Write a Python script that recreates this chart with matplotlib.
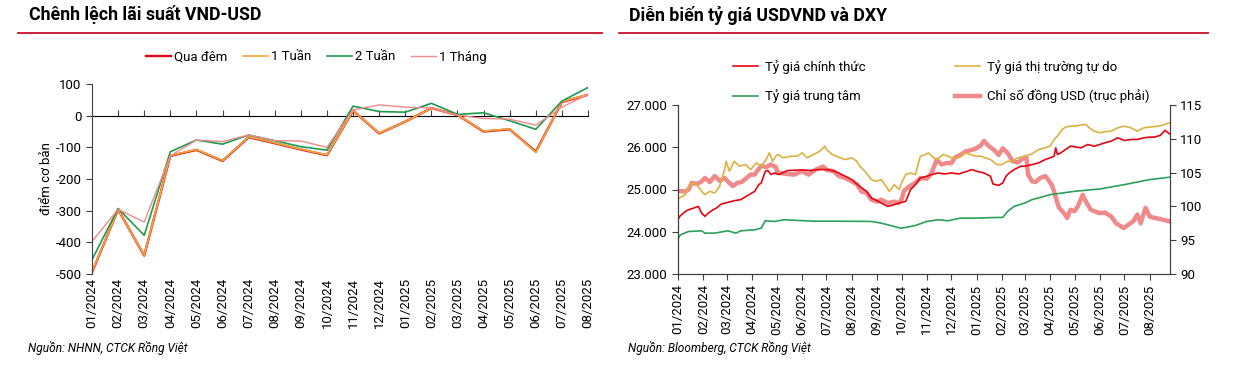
import matplotlib
matplotlib.use('Agg')
import matplotlib.pyplot as plt
import matplotlib.dates as mdates
from matplotlib.lines import Line2D
from matplotlib.ticker import FuncFormatter
import pandas as pd

plt.rcParams['font.family'] = ['Roboto', 'DejaVu Sans']
plt.rcParams['axes.unicode_minus'] = False

# ---- số liệu: chênh lệch lãi suất (điểm cơ bản)
months = ['01/2024', '02/2024', '03/2024', '04/2024', '05/2024', '06/2024', '07/2024',
          '08/2024', '09/2024', '10/2024', '11/2024', '12/2024', '01/2025', '02/2025',
          '03/2025', '04/2025', '05/2025', '06/2025', '07/2025', '08/2025']
qua_dem = [-495, -296, -442, -127, -108, -143, -68, -87, -107, -125, 16, -56, -19, 24, 2, -50, -43, -114, 43, 66]
tuan_1 = [-494, -296, -441, -126, -107, -142, -67, -86, -106, -124, 16, -55, -19, 24, 2, -49, -42, -116, 44, 67]
tuan_2 = [-455, -293, -378, -114, -77, -90, -61, -79, -98, -109, 30, 13, 11, 39, 4, 9, -16, -43, 46, 89]
thang_1 = [-397, -296, -336, -127, -77, -82, -61, -79, -80, -100, 18, 34, 27, 24, 2, -9, -11, -30, 27, 67]

# ---- số liệu: tỷ giá
red_dates = ['2024-01-01', '2024-01-03', '2024-01-10', '2024-01-14', '2024-01-26', '2024-01-30',
             '2024-02-03', '2024-02-07', '2024-02-13', '2024-02-17', '2024-02-23', '2024-03-02',
             '2024-03-10', '2024-03-18', '2024-03-30', '2024-04-04', '2024-04-09', '2024-04-12',
             '2024-04-17', '2024-04-20', '2024-04-24', '2024-04-28', '2024-05-04', '2024-05-14',
             '2024-06-01', '2024-06-11', '2024-06-21', '2024-07-01', '2024-07-08', '2024-07-16',
             '2024-07-24', '2024-08-01', '2024-08-09', '2024-08-19', '2024-08-25', '2024-09-01',
             '2024-09-06', '2024-09-14', '2024-09-22', '2024-09-28', '2024-10-06', '2024-10-12',
             '2024-10-18', '2024-10-24', '2024-11-01', '2024-11-07', '2024-11-15', '2024-11-23',
             '2024-12-01', '2024-12-10', '2024-12-18', '2024-12-26', '2025-01-01', '2025-01-10',
             '2025-01-18', '2025-01-21', '2025-01-28', '2025-02-02', '2025-02-06', '2025-02-10',
             '2025-02-16', '2025-02-24', '2025-03-01', '2025-03-10', '2025-03-18', '2025-03-26',
             '2025-04-01', '2025-04-06', '2025-04-08', '2025-04-10', '2025-04-14', '2025-04-20',
             '2025-04-26', '2025-05-09', '2025-05-17', '2025-05-25', '2025-06-01', '2025-06-07',
             '2025-06-15', '2025-06-23', '2025-07-01', '2025-07-09', '2025-07-17', '2025-07-25',
             '2025-08-01', '2025-08-07', '2025-08-14', '2025-08-20', '2025-08-25']
red_vals = [24283, 24363, 24480, 24520, 24600, 24440,
            24365, 24440, 24520, 24560, 24655, 24695,
            24735, 24760, 24900, 24955, 25115, 25155,
            25430, 25450, 25355, 25390, 25355, 25448,
            25464, 25448, 25472, 25472, 25448, 25392,
            25313, 25234, 25099, 24957, 24798, 24735,
            24680, 24600, 24640, 24680, 24719, 24996,
            25115, 25273, 25313, 25353, 25392, 25368,
            25392, 25368, 25416, 25471, 25432, 25392,
            25313, 25131, 25099, 25155, 25313, 25392,
            25471, 25551, 25551, 25590, 25630, 25709,
            25749, 25788, 25986, 25828, 25867, 25947,
            26026, 25986, 26065, 26026, 26065, 26105,
            26145, 26224, 26160, 26184, 26184, 26224,
            26240, 26240, 26280, 26400, 26320]

free_dates = ['2024-01-01', '2024-01-10', '2024-01-14', '2024-01-18', '2024-01-24', '2024-01-30',
              '2024-02-03', '2024-02-09', '2024-02-15', '2024-02-21', '2024-02-27', '2024-02-29',
              '2024-03-04', '2024-03-10', '2024-03-16', '2024-03-24', '2024-03-30', '2024-04-06',
              '2024-04-12', '2024-04-18', '2024-04-22', '2024-04-26', '2024-04-30', '2024-05-02',
              '2024-05-09', '2024-05-18', '2024-05-26', '2024-06-01', '2024-06-07', '2024-06-15',
              '2024-06-23', '2024-06-29', '2024-07-01', '2024-07-08', '2024-07-18', '2024-07-24',
              '2024-08-01', '2024-08-07', '2024-08-11', '2024-08-17', '2024-08-25', '2024-08-31',
              '2024-09-06', '2024-09-12', '2024-09-16', '2024-09-22', '2024-09-28', '2024-10-01',
              '2024-10-06', '2024-10-12', '2024-10-18', '2024-10-24', '2024-10-30', '2024-11-03',
              '2024-11-07', '2024-11-13', '2024-11-21', '2024-11-27', '2024-12-01', '2024-12-10',
              '2024-12-18', '2024-12-24', '2025-01-01', '2025-01-06', '2025-01-18', '2025-01-26',
              '2025-02-01', '2025-02-08', '2025-02-14', '2025-02-20', '2025-03-01', '2025-03-10',
              '2025-03-18', '2025-03-26', '2025-04-01', '2025-04-06', '2025-04-10', '2025-04-16',
              '2025-04-20', '2025-04-26', '2025-05-01', '2025-05-09', '2025-05-15', '2025-05-19',
              '2025-05-25', '2025-06-01', '2025-06-07', '2025-06-15', '2025-06-23', '2025-07-01',
              '2025-07-09', '2025-07-17', '2025-07-25', '2025-08-01', '2025-08-07', '2025-08-15',
              '2025-08-25']
free_vals = [24782, 24877, 25075, 25155, 25115, 24957,
             24877, 24957, 24917, 25075, 25471, 25669,
             25432, 25669, 25551, 25590, 25471, 25630,
             25551, 25709, 25867, 25669, 25788, 25828,
             25749, 25788, 25788, 25867, 25749, 25828,
             25907, 26026, 25947, 25828, 25749, 25709,
             25749, 25669, 25551, 25432, 25234, 25194,
             25234, 25075, 24957, 25115, 24996, 25155,
             25353, 25392, 25353, 25788, 25828, 25867,
             25788, 25709, 25828, 25788, 25749, 25749,
             25867, 25828, 25788, 25788, 25709, 25590,
             25590, 25669, 25669, 25749, 25788, 25844,
             25947, 25986, 26026, 26184, 26263, 26422,
             26477, 26501, 26501, 26525, 26541, 26461,
             26382, 26343, 26366, 26382, 26461, 26501,
             26461, 26382, 26461, 26477, 26490, 26510,
             26580]

ctr_dates = ['2024-01-01', '2024-01-04', '2024-01-14', '2024-01-30', '2024-02-03', '2024-02-15',
             '2024-03-02', '2024-03-12', '2024-03-18', '2024-04-04', '2024-04-12', '2024-04-17',
             '2024-04-28', '2024-05-10', '2024-06-15', '2024-07-15', '2024-08-25', '2024-09-06',
             '2024-09-14', '2024-09-22', '2024-09-30', '2024-10-06', '2024-10-18', '2024-11-01',
             '2024-11-15', '2024-11-27', '2024-12-12', '2025-01-01', '2025-01-20', '2025-02-02',
             '2025-02-08', '2025-02-16', '2025-03-01', '2025-03-10', '2025-04-01', '2025-05-01',
             '2025-06-01', '2025-07-01', '2025-08-01', '2025-08-25']
ctr_vals = [23832, 23927, 24006, 24022, 23967, 23967,
            24022, 23967, 24022, 24046, 24085, 24260,
            24244, 24284, 24250, 24250, 24244, 24204,
            24165, 24125, 24085, 24101, 24149, 24244,
            24284, 24260, 24323, 24323, 24335, 24339,
            24482, 24600, 24680, 24760, 24877, 24957,
            25012, 25115, 25234, 25290]

dxy_dates = ['2024-01-01', '2024-01-10', '2024-01-14', '2024-01-18', '2024-01-24', '2024-01-30',
             '2024-02-03', '2024-02-09', '2024-02-15', '2024-02-21', '2024-02-27', '2024-03-02',
             '2024-03-08', '2024-03-14', '2024-03-19', '2024-03-24', '2024-03-30', '2024-04-04',
             '2024-04-08', '2024-04-12', '2024-04-18', '2024-04-24', '2024-04-30', '2024-05-02',
             '2024-05-14', '2024-05-22', '2024-06-01', '2024-06-09', '2024-06-17', '2024-06-27',
             '2024-07-01', '2024-07-10', '2024-07-16', '2024-07-24', '2024-08-01', '2024-08-07',
             '2024-08-13', '2024-08-19', '2024-08-25', '2024-09-01', '2024-09-06', '2024-09-14',
             '2024-09-22', '2024-09-27', '2024-10-01', '2024-10-04', '2024-10-10', '2024-10-18',
             '2024-10-24', '2024-11-01', '2024-11-07', '2024-11-13', '2024-11-19', '2024-11-25',
             '2024-12-01', '2024-12-06', '2024-12-12', '2024-12-18', '2024-12-24', '2024-12-30',
             '2025-01-06', '2025-01-10', '2025-01-16', '2025-01-22', '2025-01-28', '2025-02-02',
             '2025-02-08', '2025-02-14', '2025-02-20', '2025-02-28', '2025-03-03', '2025-03-05',
             '2025-03-10', '2025-03-14', '2025-03-20', '2025-03-26', '2025-03-30', '2025-04-03',
             '2025-04-06', '2025-04-10', '2025-04-12', '2025-04-18', '2025-04-22', '2025-04-26',
             '2025-05-01', '2025-05-05', '2025-05-11', '2025-05-15', '2025-05-21', '2025-05-25',
             '2025-06-01', '2025-06-07', '2025-06-15', '2025-06-21', '2025-06-30', '2025-07-06',
             '2025-07-12', '2025-07-17', '2025-07-21', '2025-07-27', '2025-08-01', '2025-08-07',
             '2025-08-15', '2025-08-25']
dxy_vals = [102.3, 102.2, 102.5, 103.5, 103.3, 103.7,
            104.2, 103.6, 104.5, 103.8, 104.2, 103.7,
            103.0, 103.5, 103.6, 104.1, 104.7, 104.7,
            105.4, 106.0, 105.8, 106.2, 105.8, 105.0,
            104.8, 104.7, 105.2, 104.7, 105.4, 105.9,
            105.4, 105.2, 104.5, 104.2, 103.7, 103.3,
            102.2, 102.0, 101.0, 100.7, 101.0, 100.5,
            100.7, 100.5, 101.0, 102.3, 102.9, 103.5,
            104.2, 104.1, 105.0, 106.9, 106.2, 106.4,
            106.4, 107.3, 107.6, 108.1, 108.3, 108.5,
            109.0, 109.7, 108.9, 108.4, 107.6, 108.6,
            107.9, 106.7, 106.5, 107.2, 107.2, 104.7,
            103.7, 103.6, 104.2, 104.5, 103.9, 103.2,
            102.2, 100.5, 99.8, 99.0, 98.3, 99.5,
            99.3, 100.0, 101.7, 100.7, 99.5, 99.3,
            99.0, 99.1, 98.5, 97.5, 96.8, 97.3,
            97.8, 98.8, 97.5, 99.8, 98.5, 98.3,
            98.1, 97.8]

c_red = '#E30613'
c_orange = '#F2A93B'
c_green = '#1F9A4C'
c_pink = '#F08A8A'
c_gold = '#DDB042'
c_axis = '#404040'
fs = 9.5

fig = plt.figure(figsize=(12.34, 3.70), dpi=100)

# ================= biểu đồ trái
ax = fig.add_axes([92 / 1234, 1 - 274 / 370, (588 - 92) / 1234, (274 - 84) / 370])
x = list(range(len(months)))
ax.plot(x, qua_dem, color=c_red, lw=1.7, label='Qua đêm')
ax.plot(x, tuan_1, color=c_orange, lw=1.2, label='1 Tuần')
ax.plot(x, tuan_2, color=c_green, lw=1.2, label='2 Tuần')
ax.plot(x, thang_1, color=c_pink, lw=1.0, label='1 Tháng')
ax.set_xlim(0, len(months) - 1)
ax.set_ylim(-500, 100)
ax.set_yticks(range(-500, 101, 100))
ax.set_xticks(x)
ax.set_xticklabels(months, rotation=90, fontsize=fs)
ax.tick_params(axis='x', length=0, pad=3)
ax.tick_params(axis='y', direction='out', length=4, labelsize=fs, color=c_axis)
for s in ['top', 'right', 'bottom']:
    ax.spines[s].set_visible(False)
ax.spines['left'].set_color(c_axis)
sec = ax.secondary_xaxis(500 / 600)
sec.set_xticks(x)
sec.set_xticklabels([])
sec.tick_params(direction='out', length=4, color=c_axis)
sec.spines['bottom'].set_color(c_axis)
ax.set_ylabel('điểm cơ bản', fontsize=fs, labelpad=2)
ax.legend(loc='center left', bbox_to_anchor=(146 / 1234, 1 - 57 / 370),
          bbox_transform=fig.transFigure, ncol=4, frameon=False, fontsize=fs,
          handlelength=1.9, columnspacing=1.15, handletextpad=0.25, borderpad=0, borderaxespad=0)

# ================= biểu đồ phải
ax2 = fig.add_axes([678 / 1234, 1 - 274 / 370, (1170 - 678) / 1234, (274 - 105) / 370])
ax2.plot(pd.to_datetime(red_dates), red_vals, color=c_red, lw=1.2, label='Tỷ giá chính thức')
ax2.plot(pd.to_datetime(free_dates), free_vals, color=c_gold, lw=1.2, label='Tỷ giá thị trường tự do')
ax2.plot(pd.to_datetime(ctr_dates), ctr_vals, color='#2EA05A', lw=1.2, label='Tỷ giá trung tâm')
ax2.set_ylim(23000, 27000)
ax2.set_yticks(range(23000, 27001, 1000))
ax2.yaxis.set_major_formatter(FuncFormatter(lambda v, p: f'{v:,.0f}'.replace(',', '.')))
ax2.set_xlim(pd.Timestamp('2024-01-01'), pd.Timestamp('2025-08-26'))
ax2.xaxis.set_major_locator(mdates.MonthLocator())
ax2.xaxis.set_major_formatter(mdates.DateFormatter('%m/%Y'))
ax2.tick_params(axis='x', rotation=90, labelsize=fs, length=4, color=c_axis)
ax2.tick_params(axis='y', labelsize=fs, length=4, color=c_axis)
ax2.spines['top'].set_visible(False)
for s in ['left', 'right', 'bottom']:
    ax2.spines[s].set_color(c_axis)

ax3 = ax2.twinx()
ax3.plot(pd.to_datetime(dxy_dates), dxy_vals, color=c_pink, lw=3.2,
         label='Chỉ số đồng USD (trục phải)')
ax3.set_ylim(90, 115)
ax3.set_yticks(range(90, 116, 5))
ax3.tick_params(axis='y', labelsize=fs, length=4, color=c_axis)
ax3.spines['top'].set_visible(False)
ax3.spines['right'].set_color(c_axis)
ax2.set_zorder(ax3.get_zorder() + 1)
ax2.patch.set_visible(False)

h1, l1 = ax2.get_legend_handles_labels()
h2, l2 = ax3.get_legend_handles_labels()
handles = [h1[0], h1[2], h1[1], h2[0]]
labels = [l1[0], l1[2], l1[1], l2[0]]
fig.legend(handles, labels, loc='upper left', bbox_to_anchor=(733 / 1234, 1 - 60 / 370), ncol=2,
           frameon=False, fontsize=fs, handlelength=1.9, columnspacing=6.8,
           handletextpad=0.5, labelspacing=1.15, borderpad=0, borderaxespad=0)

# ================= tiêu đề, gạch đỏ, nguồn
fig.text(29 / 1234, 1 - 15 / 370, 'Chênh lệch lãi suất VND-USD', fontsize=12.8,
         fontweight='bold', va='center', ha='left')
fig.text(629 / 1234, 1 - 15 / 370, 'Diễn biến tỷ giá USDVND và DXY', fontsize=12.8,
         fontweight='bold', va='center', ha='left')
fig.add_artist(Line2D([18 / 1234, 602 / 1234], [1 - 33 / 370] * 2, color='#C8102E', lw=1.3,
                      transform=fig.transFigure))
fig.add_artist(Line2D([619 / 1234, 1208 / 1234], [1 - 33 / 370] * 2, color='#C8102E', lw=1.3,
                      transform=fig.transFigure))
fig.text(28 / 1234, 1 - 348 / 370, 'Nguồn: NHNN, CTCK Rồng Việt', fontsize=8.6,
         style='italic', va='center', ha='left')
fig.text(628 / 1234, 1 - 348 / 370, 'Nguồn: Bloomberg, CTCK Rồng Việt', fontsize=8.6,
         style='italic', va='center', ha='left')

fig.savefig('out.png', dpi=100)
